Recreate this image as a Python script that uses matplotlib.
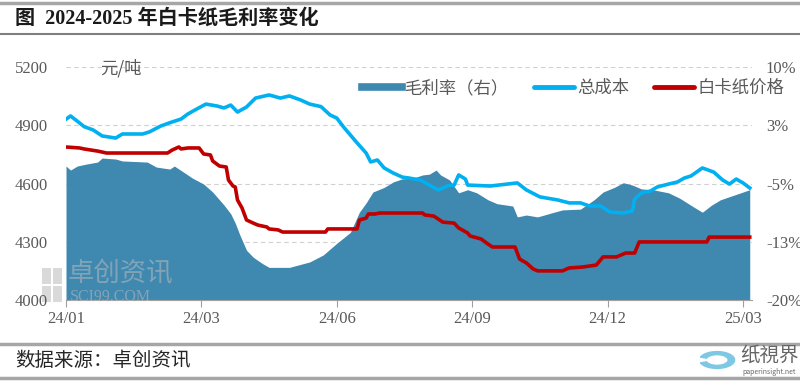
import matplotlib.pyplot as plt
from matplotlib.lines import Line2D
from matplotlib.patches import Rectangle, Wedge

plt.rcParams['font.family'] = ['Noto Sans CJK SC', 'DejaVu Sans']

# x positions are trading-day indices from 2024-01 (category axis)
tick_pos = [0, 60, 120, 180, 240, 300]
tick_labels = ['24/01', '24/03', '24/06', '24/09', '24/12', '25/03']

# 总成本 (元/吨)
cost_x = [0, 2, 6, 8, 12, 16, 22, 25, 34, 37, 42, 46, 51, 54, 58, 62, 67, 70, 73, 76,
          80, 84, 90, 95, 99, 104, 108, 113, 117, 120, 123, 126, 129, 133, 135, 138,
          141, 145, 149, 152, 157, 161, 165, 169, 172, 174, 177, 178, 188, 200, 204,
          210, 218, 223, 228, 232, 237, 241, 247, 251, 252, 255, 259, 262, 267, 271,
          274, 277, 282, 287, 291, 294, 297, 300, 303]
cost = [4931, 4948, 4912, 4893, 4876, 4845, 4834, 4855, 4855, 4866, 4896, 4913, 4932,
        4958, 4984, 5009, 4999, 4989, 5004, 4968, 4994, 5040, 5056, 5040, 5051, 5030,
        5009, 4996, 4953, 4937, 4891, 4850, 4809, 4757, 4711, 4721, 4680, 4654, 4633,
        4628, 4618, 4592, 4567, 4587, 4592, 4644, 4623, 4592, 4587, 4603, 4567, 4531,
        4515, 4500, 4500, 4484, 4484, 4453, 4448, 4458, 4520, 4551, 4561, 4582, 4597,
        4608, 4628, 4639, 4680, 4659, 4618, 4597, 4623, 4603, 4577]

# 白卡纸价格 (元/吨)
price_x = [0, 6, 8, 14, 18, 45, 47, 50, 51, 54, 59, 61, 64, 65, 68, 71, 72, 74, 75, 76,
           78, 80, 83, 85, 89, 90, 94, 96, 115, 116, 129, 130, 133, 134, 137, 139, 158,
           159, 163, 167, 172, 174, 178, 179, 184, 187, 189, 199, 201, 204, 207, 209,
           220, 223, 229, 235, 238, 244, 248, 252, 254, 284, 285, 303]
price = [4788, 4783, 4778, 4767, 4757, 4757, 4772, 4788, 4778, 4783, 4783, 4752, 4747,
         4716, 4690, 4685, 4618, 4587, 4582, 4515, 4474, 4412, 4396, 4386, 4376, 4366,
         4361, 4350, 4350, 4366, 4366, 4412, 4422, 4443, 4443, 4448, 4448, 4438, 4432,
         4401, 4396, 4371, 4345, 4330, 4314, 4288, 4273, 4273, 4211, 4191, 4160, 4150,
         4150, 4165, 4170, 4180, 4222, 4222, 4242, 4242, 4299, 4299, 4324, 4324]

# 毛利率 (%, 右轴)
margin_x = [0, 2, 5, 9, 14, 16, 22, 25, 36, 40, 46, 48, 52, 56, 61, 65, 70, 73, 75, 77,
            80, 83, 87, 90, 99, 108, 114, 120, 126, 130, 133, 136, 141, 145, 149, 154,
            158, 161, 164, 166, 170, 174, 178, 182, 187, 191, 198, 200, 204, 209, 215,
            220, 228, 234, 238, 243, 247, 251, 255, 260, 267, 272, 278, 282, 286, 290,
            296, 303]
margin = [-2.75, -3.27, -2.75, -2.5, -2.24, -1.72, -1.85, -2.1, -2.24, -2.88, -3.14,
          -2.75, -3.52, -4.3, -5.07, -6.1, -7.77, -8.9, -10.1, -11.6, -13.6, -14.5,
          -15.3, -15.8, -15.8, -15.1, -14.2, -12.7, -11.3, -8.7, -7.5, -6.1, -5.5, -4.8,
          -4.4, -4.3, -3.9, -3.8, -3.27, -3.9, -4.55, -6.2, -5.8, -6.2, -7.1, -7.6, -7.9,
          -9.3, -9.06, -9.3, -8.8, -8.4, -8.3, -7.1, -6.1, -5.5, -4.9, -5.2, -5.7, -5.8,
          -6.2, -6.9, -8.0, -8.7, -7.8, -7.1, -6.5, -5.8]

area_c = '#3f88b0'
cost_c = '#00b0f0'
price_c = '#c00000'
gray = '#595959'
serif = ['Liberation Serif', 'Noto Sans CJK SC']

fig = plt.figure(figsize=(8, 3.81), dpi=100)
ax = fig.add_axes([66/800, 1 - 300/381, 686/800, 233/381])
ax2 = ax.twinx()
ax.set_zorder(ax2.get_zorder() + 1)
ax.patch.set_visible(False)

ax2.fill_between(margin_x, margin, -20, color=area_c, linewidth=0, zorder=2)
ax2.set_ylim(-20, 10)
ax2.set_yticks([10, 2.5, -5, -12.5, -20])
ax2.set_yticklabels(['10%', '3%', '-5%', '-13%', '-20%'], family=serif, fontsize=12, color=gray)
ax2.grid(axis='y', color='#d0d0d0', linestyle=(0, (4, 3)), linewidth=0.8, zorder=1)
ax2.set_axisbelow(True)
ax2.tick_params(axis='y', length=0, pad=10)

ax.plot(cost_x, cost, color=cost_c, lw=2.6, solid_joinstyle='round', zorder=3)
ax.plot(price_x, price, color=price_c, lw=2.6, zorder=3)
ax.set_ylim(4000, 5200)
ax.set_yticks([4000, 4300, 4600, 4900, 5200])
ax.set_yticklabels(['4000', '4300', '4600', '4900', '5200'], family=serif, fontsize=12, color=gray)
ax.set_xlim(0, 304)
ax.set_xticks(tick_pos)
ax.set_xticklabels(tick_labels, family=serif, fontsize=12, color=gray)
ax.tick_params(axis='y', length=0, pad=13)
ax.tick_params(axis='x', length=5, color='#a0a0a0', pad=3)

for a in (ax, ax2):
    for s in ('top', 'left', 'right', 'bottom'):
        a.spines[s].set_visible(False)
ax.spines['bottom'].set_visible(True)
ax.spines['bottom'].set_color('#a0a0a0')

handles = [Line2D([], [], color=area_c, lw=5.5),
           Line2D([], [], color=cost_c, lw=3.5, solid_capstyle='round'),
           Line2D([], [], color=price_c, lw=3.5, solid_capstyle='round')]
leg = fig.legend(handles, ['毛利率（右）', '总成本', '白卡纸价格'], loc='center left',
                 bbox_to_anchor=(362/800, 1 - 88/381), ncol=3, frameon=False,
                 fontsize=12.5, handlelength=2.3, handletextpad=0.2, columnspacing=1.4,
                 borderpad=0, borderaxespad=0)
for t in leg.get_texts():
    t.set_color(gray)

fig.text(100/800, 1 - 68/381, '元/吨', fontsize=12.5, color=gray, va='center')

# title and frame lines
fig.add_artist(Line2D([0, 1], [1 - 3/381, 1 - 3/381], color='#a6a6a6', lw=2.5))
fig.add_artist(Line2D([0, 1], [1 - 34/381, 1 - 34/381], color='#7f7f7f', lw=1.5))
fig.text(15/800, 1 - 19/381, '图  2024-2025 年白卡纸毛利率变化', fontsize=14.5,
         weight='bold', family=serif, va='center', color='#1a1a1a')
fig.add_artist(Line2D([0, 1], [1 - 344/381, 1 - 344/381], color='#a6a6a6', lw=2.5))
fig.add_artist(Line2D([0, 1], [1 - 378/381, 1 - 378/381], color='#a6a6a6', lw=2.5))
fig.text(15/800, 1 - 361/381, '数据来源：卓创资讯', fontsize=14, va='center', color='#262626')

# logo at bottom right
fig.add_artist(Wedge((717/800, 1 - 360/381), 0.022, 200, 520, width=0.008,
                     color='#7ec8e3', transform=fig.transFigure))
fig.text(740/800, 1 - 355/381, '纸視界', fontsize=14, color='#666666', va='center',
         family=['Noto Sans CJK TC', 'DejaVu Sans'])
fig.text(742/800, 1 - 372/381, 'paperinsight.net', fontsize=5, color='#666666', va='center')

# watermark
for (x0, y0, w, h) in [(42, 268, 9, 16), (53, 268, 9, 16), (42, 286, 9, 16), (53, 286, 9, 16)]:
    fig.add_artist(Rectangle((x0/800, 1 - (y0 + h)/381), w/800, h/381, color='#bbbbbb',
                             alpha=0.55, transform=fig.transFigure, lw=0))
fig.text(68/800, 1 - 274/381, '卓创资讯', fontsize=19, color='#bbbbbb', alpha=0.55, va='center')
fig.text(70/800, 1 - 297/381, 'SCI99.COM', fontsize=11.5, color='#bbbbbb', alpha=0.55,
         va='center', family=serif)

fig.savefig('out.png', dpi=100)
